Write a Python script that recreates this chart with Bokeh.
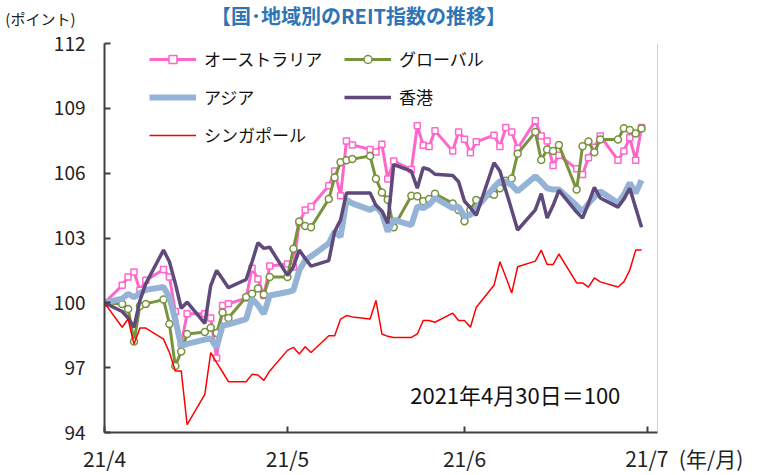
import pandas as pd
from bokeh.plotting import figure
from bokeh.layouts import column
from bokeh.models import Range1d, FixedTicker, Legend, LegendItem, Label, Span, ColumnDataSource
from bokeh.embed import file_html
from bokeh.resources import INLINE

# ---------------- data ----------------
dates = [
    "2021-04-30",
    "2021-05-03", "2021-05-04", "2021-05-05", "2021-05-06", "2021-05-07",
    "2021-05-10", "2021-05-11", "2021-05-12", "2021-05-13", "2021-05-14",
    "2021-05-17", "2021-05-18", "2021-05-19", "2021-05-20", "2021-05-21",
    "2021-05-24", "2021-05-25", "2021-05-26", "2021-05-27", "2021-05-28",
    "2021-05-31", "2021-06-01", "2021-06-02", "2021-06-03", "2021-06-04",
    "2021-06-07", "2021-06-08", "2021-06-09", "2021-06-10", "2021-06-11",
    "2021-06-14", "2021-06-15", "2021-06-16", "2021-06-17", "2021-06-18",
    "2021-06-21", "2021-06-22", "2021-06-23", "2021-06-24", "2021-06-25",
    "2021-06-28", "2021-06-29", "2021-06-30", "2021-07-01", "2021-07-02",
    "2021-07-05", "2021-07-06", "2021-07-07", "2021-07-08", "2021-07-09",
    "2021-07-12", "2021-07-13", "2021-07-14", "2021-07-15", "2021-07-16",
    "2021-07-19", "2021-07-20", "2021-07-21", "2021-07-22", "2021-07-23",
    "2021-07-26", "2021-07-27", "2021-07-28", "2021-07-29", "2021-07-30",
]

australia = [
    100.0,
    100.81, 101.2, 101.43, 100.58, 101.04,
    101.54, 101.2, 99.6, 98.1, 99.49,
    99.49, 99.3, 97.45, 99.88, 99.96,
    100.22, 101.6, 101.1, 100.34, 101.7,
    101.8, 101.66, 103.7, 104.3, 104.46,
    105.42, 106.1, 104.96, 107.49, 107.3,
    107.1, 106.98, 107.34, 105.73, 106.56,
    106.17, 108.19, 107.29, 107.23, 107.96,
    107.02, 107.91, 107.57, 106.95, 107.45,
    107.76, 107.23, 108.11, 107.91, 107.14,
    108.42, 107.72, 107.49, 106.36, 106.83,
    106.2, 105.94, 106.71, 107.2, 107.72,
    106.6, 107.02, 107.64, 106.6, 108.11,
]

globe = [
    100.0,
    99.95, 99.72, 98.21, 99.85, 99.95,
    100.15, 99.02, 97.08, 97.75, 98.56,
    98.65, 98.85, 98.6, 99.55, 99.3,
    100.27, 100.42, 100.66, 100.38, 101.2,
    101.2, 102.5, 103.76, 103.56, 103.5,
    104.8, 105.8, 106.5, 106.6, 106.65,
    106.79, 105.74, 105.11, 104.77, 103.5,
    104.96, 104.93, 104.7, 104.8, 105.05,
    104.6, 104.3, 103.78, 104.3, 104.76,
    105.0, 105.3, 105.65, 105.75, 106.9,
    107.9, 106.61, 107.1, 107.03, 107.3,
    105.24, 107.25, 107.47, 106.97, 107.56,
    107.56, 108.08, 108.0, 107.83, 108.07,
]

asia = [
    100.0,
    100.19, 100.42, 100.26, 100.45, 100.6,
    100.73, 100.26, 99.2, 98.0, 98.1,
    98.3, 98.35, 97.93, 98.94, 99.0,
    99.25, 100.19, 99.9, 99.49, 100.34,
    100.5, 100.58, 101.5, 101.97, 102.15,
    102.75, 103.3, 103.06, 104.77, 104.6,
    104.3, 104.46, 104.15, 103.3, 103.84,
    103.6, 104.46, 104.38, 104.54, 104.85,
    104.38, 104.46, 104.0, 104.07, 104.4,
    105.35, 105.63, 105.6, 105.45, 105.16,
    105.86, 105.6, 105.3, 105.24, 105.24,
    104.5, 104.23, 104.6, 104.9, 105.16,
    104.62, 105.0, 105.55, 105.08, 105.67,
]

hongkong = [
    100.0,
    99.6, 99.3, 98.87, 100.1, 100.89,
    102.44, 101.9, 100.9, 99.75, 100.03,
    99.05, 100.8, 101.5, 101.1, 100.7,
    101.08, 101.9, 102.78, 102.52, 102.57,
    101.27, 101.66, 102.44, 102.05, 101.7,
    101.95, 103.3, 103.84, 105.08, 105.08,
    105.08, 104.5, 104.25, 103.68, 106.4,
    106.09, 105.3, 106.25, 106.17, 105.95,
    105.89, 105.6, 104.7, 104.4, 104.05,
    106.48, 106.1, 105.2, 104.3, 103.37,
    104.3, 105.05, 103.92, 104.5, 105.2,
    104.2, 103.92, 104.6, 105.34, 104.85,
    104.43, 104.8, 105.3, 104.4, 103.5,
]

singapore = [
    100.0,
    98.87, 99.25, 98.09, 98.83, 98.83,
    98.32, 97.7, 96.85, 96.85, 94.36,
    95.76, 97.7, 97.23, 96.8, 96.35,
    96.35, 96.69, 96.66, 96.41, 96.85,
    97.8, 97.94, 97.63, 97.97, 97.7,
    98.48, 98.48, 99.25, 99.41, 99.35,
    99.25, 100.11, 98.56, 98.45, 98.4,
    98.4, 98.56, 99.18, 99.18, 99.1,
    99.52, 99.18, 99.18, 98.87, 99.8,
    100.81, 101.9, 101.2, 100.45, 101.67,
    101.93, 102.44, 101.77, 101.77, 102.26,
    100.92, 100.92, 100.73, 101.15, 100.97,
    100.73, 100.97, 101.51, 102.44, 102.44,
]

series_names = ["オーストラリア", "グローバル", "アジア", "香港", "シンガポール"]
x_tick_dates = ["2021-04-30", "2021-05-31", "2021-06-30", "2021-07-31"]
x_tick_labels = ["21/4", "21/5", "21/6", "21/7"]
x_unit_label = "(年/月)"
y_ticks = [94, 97, 100, 103, 106, 109, 112]
title_text = "【国･地域別のREIT指数の推移】"
y_unit_label = "(ポイント)"
base_note = "2021年4月30日＝100"

FONT = "Noto Sans CJK JP"

# ---------------- header (title row) ----------------
# its frame lines up with the chart frame below (553 px wide), so the unit text
# "(ポイント)" is drawn as the single tick label of a hidden axis in the left margin
H_HEAD = 29
head = figure(width=772, height=H_HEAD, x_range=Range1d(0, 553), y_range=Range1d(0, H_HEAD),
              output_backend="svg", toolbar_location=None, x_axis_location=None,
              min_border_left=104, min_border_right=115, min_border_top=0, min_border_bottom=0)
head.outline_line_color = None
head.grid.grid_line_color = None
head.yaxis.ticker = FixedTicker(ticks=[11])
head.yaxis.major_label_overrides = {11: y_unit_label}
head.yaxis.axis_line_color = None
head.yaxis.major_tick_line_color = None
head.yaxis.minor_tick_line_color = None
head.yaxis.major_tick_out = 0
head.yaxis.major_tick_in = 0
head.yaxis.major_label_standoff = 29
head.yaxis.major_label_text_font = FONT
head.yaxis.major_label_text_font_size = "15px"
head.yaxis.major_label_text_color = "#222222"
head.add_layout(Label(x=254, y=H_HEAD - 14.5, text=title_text, text_font=FONT,
                      text_font_size="20px", text_font_style="bold",
                      text_color="#2F75B5", text_align="center", text_baseline="middle"))

# ---------------- main chart ----------------
x = pd.to_datetime(dates)
start = pd.Timestamp("2021-04-30")
end = start + pd.Timedelta(days=93.7)

p = figure(width=772, height=475 - H_HEAD, x_axis_type="datetime",
           x_range=Range1d(start, end), y_range=Range1d(94, 112),
           output_backend="svg", toolbar_location=None,
           min_border_left=104, min_border_right=115,
           min_border_top=43 - H_HEAD, min_border_bottom=42)
p.outline_line_color = None
p.grid.grid_line_color = None

src = ColumnDataSource(dict(x=x, aus=australia, glo=globe, asia=asia,
                            hk=hongkong, sg=singapore))

r_aus = p.line("x", "aus", source=src, line_color="#FF66CC", line_width=3)
m_aus = p.scatter("x", "aus", source=src, marker="square", size=6,
                  fill_color="white", line_color="#FF66CC", line_width=1.5)
r_glo = p.line("x", "glo", source=src, line_color="#77933C", line_width=3)
m_glo = p.scatter("x", "glo", source=src, marker="circle", size=7,
                  fill_color="white", line_color="#77933C", line_width=1.5)
r_asia = p.line("x", "asia", source=src, line_color="#95B3D7", line_width=6)
r_hk = p.line("x", "hk", source=src, line_color="#604A7B", line_width=3.5)
r_sg = p.line("x", "sg", source=src, line_color="#FF0000", line_width=1.5)

# axes
tick_ms = [int(pd.Timestamp(d).value // 10**6) for d in x_tick_dates]
labels = list(x_tick_labels)
# last tick carries the unit text; pad the front so "21/7" stays centred on its tick
labels[-1] = "\u3000\u3000\u3000\u2002" + labels[-1] + "\u2002" + x_unit_label
p.xaxis.ticker = FixedTicker(ticks=tick_ms)
p.xaxis.major_label_overrides = {t: l for t, l in zip(tick_ms, labels)}
p.yaxis.ticker = FixedTicker(ticks=y_ticks)
for ax in (p.xaxis, p.yaxis):
    ax.axis_line_color = "#404040"
    ax.axis_line_width = 2
    ax.major_tick_line_color = "#404040"
    ax.major_tick_line_width = 2
    ax.major_tick_in = 6
    ax.major_tick_out = 0
    ax.minor_tick_line_color = None
    ax.major_label_text_font = FONT
    ax.major_label_text_color = "#222222"
p.yaxis.major_label_text_font_size = "19px"
p.xaxis.major_label_text_font_size = "21px"
p.xaxis.major_label_standoff = 10
p.yaxis.major_label_standoff = 19

p.add_layout(Span(location=end, dimension="height", line_color="#a0a0a0", line_width=1))

# legends
leg1 = Legend(items=[LegendItem(label=series_names[0], renderers=[r_aus, m_aus]),
                     LegendItem(label=series_names[2], renderers=[r_asia]),
                     LegendItem(label=series_names[4], renderers=[r_sg])],
              location=(45, 285))
leg2 = Legend(items=[LegendItem(label=series_names[1], renderers=[r_glo, m_glo]),
                     LegendItem(label=series_names[3], renderers=[r_hk])],
              location=(240, 323))
for lg in (leg1, leg2):
    lg.border_line_color = None
    lg.background_fill_alpha = 0
    lg.padding = 0
    lg.margin = 0
    lg.spacing = 13
    lg.glyph_width = 47
    lg.glyph_height = 20
    lg.label_height = 20
    lg.label_standoff = 8
    lg.label_text_font = FONT
    lg.label_text_font_size = "17px"
    lg.label_text_color = "#111111"
    p.add_layout(lg, "center")

p.add_layout(Label(x=start + pd.Timedelta(days=69.6), y=95.76,
                   text=base_note, text_font=FONT, text_font_size="22px",
                   text_color="#111111", text_align="center", text_baseline="middle"))

layout = column(head, p, spacing=0)
open("out.html", "w").write(file_html(layout, INLINE))
